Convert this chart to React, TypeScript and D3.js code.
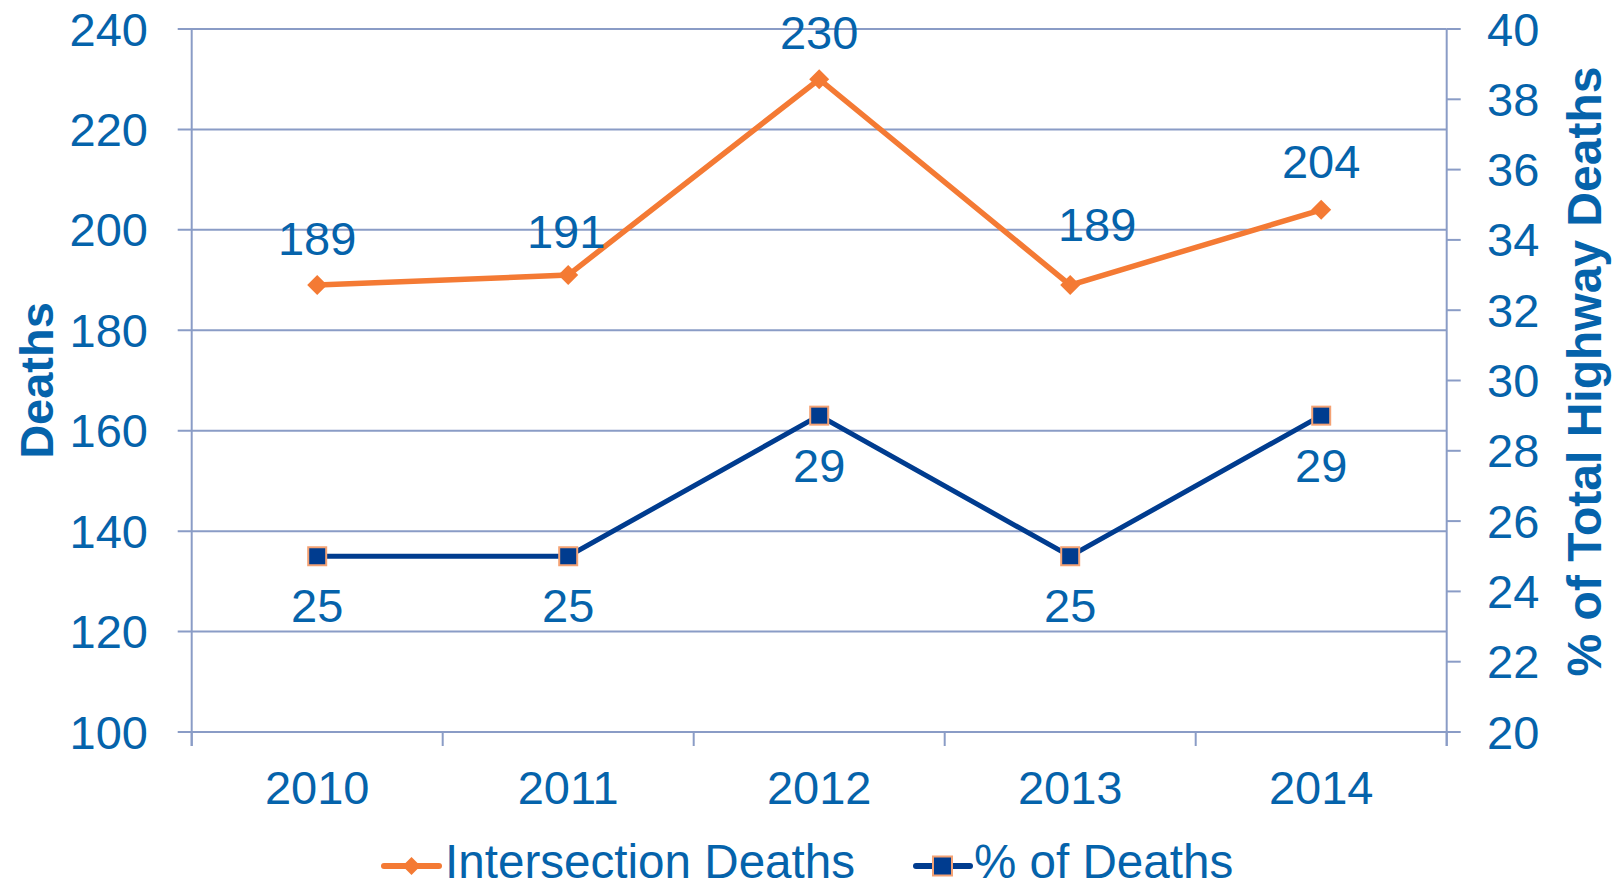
import { scaleBand, scaleLinear, line, range } from "d3";

const years = ["2010", "2011", "2012", "2013", "2014"];
const intersectionDeaths = [189, 191, 230, 189, 204];
const pctOfDeaths = [25, 25, 29, 25, 29];
const leftTicks = [100, 120, 140, 160, 180, 200, 220, 240];
const rightTicks = [20, 22, 24, 26, 28, 30, 32, 34, 36, 38, 40];

const W = 1619;
const H = 888;
const FONT = "'Liberation Sans', Arial, Helvetica, sans-serif";
const TEXT = "#0563ab";
const GRID = "#8a9cc6";
const ORANGE = "#f47a34";
const NAVY = "#003c8f";
const SQ_STROKE = "#f4a274";

const left = 191.7;
const right = 1446.7;
const top = 29;
const bottom = 732;

// hand-placed data labels in the original (dx, dy from the point)
const orangeLabelShift: [number, number][] = [
  [0, -30],
  [-2, -27],
  [0, -30],
  [27, -44],
  [0, -32],
];

export default function App() {
  const x = scaleBand<string>().domain(years).range([left, right]);
  const yL = scaleLinear().domain([100, 240]).range([bottom, top]);
  const yR = scaleLinear().domain([20, 40]).range([bottom, top]);
  const cx = (y: string) => (x(y) ?? 0) + x.bandwidth() / 2;

  const orangePath = line<number>()
    .x((_, i) => cx(years[i]))
    .y((d) => yL(d))(intersectionDeaths);
  const navyPath = line<number>()
    .x((_, i) => cx(years[i]))
    .y((d) => yR(d))(pctOfDeaths);

  const boundaries = range(years.length + 1).map((i) => left + i * x.bandwidth());

  const diamond = (px: number, py: number, r: number) =>
    `M${px},${py - r}L${px + r},${py}L${px},${py + r}L${px - r},${py}Z`;

  return (
    <svg
      width={W}
      height={H}
      style={{ position: "absolute", left: 0, top: 0, background: "#fff" }}
      fontFamily={FONT}
    >
      {/* gridlines + left ticks */}
      {leftTicks.map((t) => (
        <g key={t}>
          <line x1={left - 14} x2={right} y1={yL(t)} y2={yL(t)} stroke={GRID} strokeWidth={2} />
          <text x={148} y={yL(t) + 16.5} textAnchor="end" fontSize={47} fill={TEXT}>
            {t}
          </text>
        </g>
      ))}
      {/* right ticks */}
      {rightTicks.map((t) => (
        <g key={t}>
          <line x1={right} x2={right + 14} y1={yR(t)} y2={yR(t)} stroke={GRID} strokeWidth={2} />
          <text x={1487} y={yR(t) + 16.5} textAnchor="start" fontSize={47} fill={TEXT}>
            {t}
          </text>
        </g>
      ))}
      {/* axes */}
      <line x1={left} x2={left} y1={top} y2={bottom + 14} stroke={GRID} strokeWidth={2} />
      <line x1={right} x2={right} y1={top} y2={bottom + 14} stroke={GRID} strokeWidth={2} />
      {boundaries.map((b, i) => (
        <line key={i} x1={b} x2={b} y1={bottom} y2={bottom + 14} stroke={GRID} strokeWidth={2} />
      ))}
      {years.map((yr) => (
        <text key={yr} x={cx(yr)} y={804} textAnchor="middle" fontSize={47} fill={TEXT}>
          {yr}
        </text>
      ))}

      {/* axis titles */}
      <text
        transform={`translate(53, ${(top + bottom) / 2}) rotate(-90)`}
        textAnchor="middle"
        fontSize={47}
        fontWeight="bold"
        fill={TEXT}
      >
        Deaths
      </text>
      <text
        transform={`translate(1601, ${(top + bottom) / 2 - 9}) rotate(-90)`}
        textAnchor="middle"
        fontSize={48}
        fontWeight="bold"
        fill={TEXT}
      >
        % of Total Highway Deaths
      </text>

      {/* series */}
      <path d={orangePath ?? ""} fill="none" stroke={ORANGE} strokeWidth={5.5} />
      <path d={navyPath ?? ""} fill="none" stroke={NAVY} strokeWidth={5} />
      {intersectionDeaths.map((v, i) => (
        <g key={"o" + i}>
          <path d={diamond(cx(years[i]), yL(v), 10)} fill={ORANGE} />
          <text
            x={cx(years[i]) + orangeLabelShift[i][0]}
            y={yL(v) + orangeLabelShift[i][1]}
            textAnchor="middle"
            fontSize={47}
            fill={TEXT}
          >
            {v}
          </text>
        </g>
      ))}
      {pctOfDeaths.map((v, i) => (
        <g key={"n" + i}>
          <rect
            x={cx(years[i]) - 9}
            y={yR(v) - 9}
            width={18}
            height={18}
            fill={NAVY}
            stroke={SQ_STROKE}
            strokeWidth={2}
          />
          <text x={cx(years[i])} y={yR(v) + 66} textAnchor="middle" fontSize={47} fill={TEXT}>
            {v}
          </text>
        </g>
      ))}

      {/* legend */}
      <line x1={384} x2={439} y1={866} y2={866} stroke={ORANGE} strokeWidth={6} strokeLinecap="round" />
      <path d={diamond(411.5, 866, 9)} fill={ORANGE} />
      <text x={445} y={878} fontSize={47.6} fill={TEXT}>
        Intersection Deaths
      </text>
      <line x1={916} x2={970} y1={866} y2={866} stroke={NAVY} strokeWidth={6} strokeLinecap="round" />
      <rect x={933} y={856.5} width={19} height={19} fill={NAVY} stroke={SQ_STROKE} strokeWidth={2} />
      <text x={974} y={878} fontSize={47.6} fill={TEXT}>
        % of Deaths
      </text>
    </svg>
  );
}
